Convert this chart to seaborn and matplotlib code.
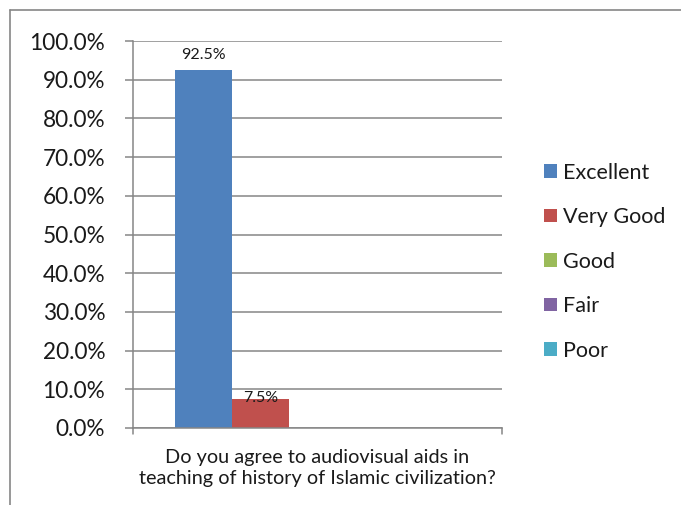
import matplotlib
matplotlib.use("Agg")
import matplotlib.pyplot as plt
import seaborn as sns
import pandas as pd
from matplotlib.lines import Line2D
from matplotlib.patches import Patch

question = ["Do you agree to audiovisual aids in\nteaching of history of Islamic civilization?"]
ratings = ["Excellent", "Very Good", "Good", "Fair", "Poor"]
values = [92.5, 7.5, 0.0, 0.0, 0.0]
colors = ["#4F81BD", "#C0504D", "#9BBB59", "#8064A2", "#4BACC6"]
yticks = [0, 10, 20, 30, 40, 50, 60, 70, 80, 90, 100]

df = pd.DataFrame({"question": question * len(ratings), "rating": ratings, "value": values})

sns.set_style("white")
plt.rcParams["font.family"] = ["Lato", "DejaVu Sans"]

W, H = 681, 505
fig = plt.figure(figsize=(W / 100, H / 100), dpi=100)
ax = fig.add_axes([133 / W, 1 - 428 / H, (502 - 133) / W, (428 - 41) / H])

sns.barplot(data=df, x="question", y="value", hue="rating", hue_order=ratings,
            palette=colors, width=0.772, ax=ax, legend=False, saturation=1,
            edgecolor="none", linewidth=0)

gray = "#868686"
txt = "#1a1a1a"
ax.set_ylim(0, 100)
ax.set_xlim(-0.5, 0.5)
ax.set_yticks(yticks)
ax.set_yticklabels([f"{v:.1f}%" for v in yticks], fontsize=16.3, color=txt)
ax.yaxis.grid(True, color=gray, linewidth=1.1)
ax.set_axisbelow(True)
ax.tick_params(axis="y", length=6, width=1.1, color=gray, pad=14, left=True)
ax.tick_params(axis="x", length=0, labelsize=14.3, pad=15, colors=txt)
for lbl in ax.get_xticklabels():
    lbl.set_linespacing(1.3)
ax.set_xlabel("")
ax.set_ylabel("")
for s in ["top", "right"]:
    ax.spines[s].set_visible(False)
for s in ["left", "bottom"]:
    ax.spines[s].set_color(gray)
    ax.spines[s].set_linewidth(1.1)

# bottom tick marks at category edges
for xe in (-0.5, 0.5):
    ax.plot([xe, xe], [0, -1.6], color=gray, lw=1.1, clip_on=False)

# data labels for non-zero bars
label_offsets = {0: 11, 1: 1}
for i, (c, v) in enumerate(zip(ax.patches, values)):
    if v > 0:
        cx = c.get_x() + c.get_width() / 2
        ax.annotate(f"{v:.1f}%", (cx, v), xytext=(0, label_offsets.get(i, 4)),
                    textcoords="offset points", ha="center", va="center",
                    fontsize=11.5, color=txt)

handles = [Patch(facecolor=col, edgecolor="none") for col in colors]
leg = fig.legend(handles, ratings, loc="upper left", bbox_to_anchor=(535 / W, 1 - 154 / H),
                 frameon=False, fontsize=15.5, handlelength=0.6, handleheight=0.6,
                 handletextpad=0.3, labelspacing=1.14, borderaxespad=0)
for t in leg.get_texts():
    t.set_color(txt)

# outer chart frame (left and top visible)
fig.add_artist(Line2D([9.5 / W, 9.5 / W], [0, 1 - 10 / H], color=gray, lw=1.2))
fig.add_artist(Line2D([9.5 / W, 1], [1 - 10 / H, 1 - 10 / H], color=gray, lw=1.2))

fig.savefig("out.png", dpi=100)
